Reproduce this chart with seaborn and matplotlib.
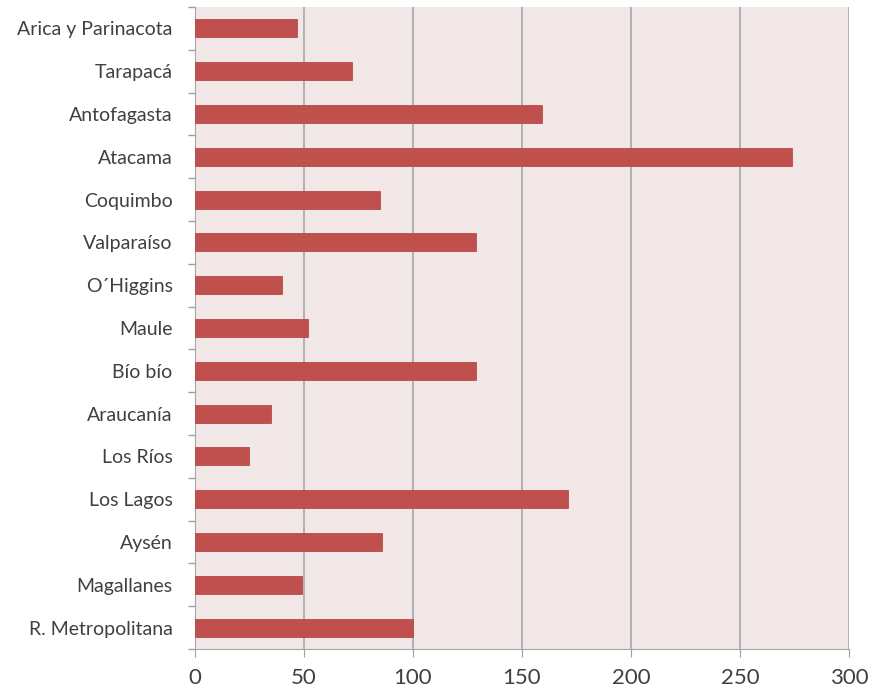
import numpy as np
import pandas as pd
import matplotlib
matplotlib.use("Agg")
import matplotlib.pyplot as plt
import seaborn as sns

regions = ["Arica y Parinacota", "Tarapacá", "Antofagasta", "Atacama", "Coquimbo",
           "Valparaíso", "O´Higgins", "Maule", "Bío bío", "Araucanía", "Los Ríos",
           "Los Lagos", "Aysén", "Magallanes", "R. Metropolitana"]
values = [47, 72, 159, 274, 85, 129, 40, 52, 129, 35, 25, 171, 86, 49, 100]
x_ticks = [0, 50, 100, 150, 200, 250, 300]

df = pd.DataFrame({"region": regions, "valor": values})

sns.set_style("white")
plt.rcParams["font.family"] = ["Lato", "DejaVu Sans"]

fig = plt.figure(figsize=(8.85, 6.89), dpi=100)
ax = fig.add_axes([0.2203, 0.058, 0.739, 0.9318])
ax.set_facecolor("#F2E7E7")

sns.barplot(data=df, x="valor", y="region", orient="h", color="#C0504D",
            saturation=1, width=0.42, edgecolor="#BA4946", linewidth=0.6,
            ax=ax, zorder=3)

ax.set_xlim(0, 300)
ax.set_ylim(len(regions) - 0.5, -0.5)
ax.set_xticks(x_ticks)
ax.set_xticklabels([str(t) for t in x_ticks], fontsize=16, color="#404040")
ax.tick_params(axis="x", bottom=True, length=6, color="#A0A0A0", pad=8, direction="out")

# category ticks at the boundaries, labels centred
ax.set_yticks(np.arange(len(regions)))
ax.set_yticklabels(regions, fontsize=14, color="#404040")
ax.set_yticks(np.arange(len(regions) + 1) - 0.5, minor=True)
ax.tick_params(axis="y", which="major", left=False, length=0, pad=16)
ax.tick_params(axis="y", which="minor", left=True, length=5, width=1,
               color="#A0A0A0", direction="out")

ax.xaxis.grid(True, color="#A6A6A6", linewidth=1.2, zorder=0)
ax.set_axisbelow(True)
for side in ["top", "right"]:
    ax.spines[side].set_visible(False)
ax.spines["left"].set_color("#A6A6A6")
ax.spines["bottom"].set_color("#A6A6A6")
ax.set_xlabel("")
ax.set_ylabel("")

fig.savefig("out.png", dpi=100)
